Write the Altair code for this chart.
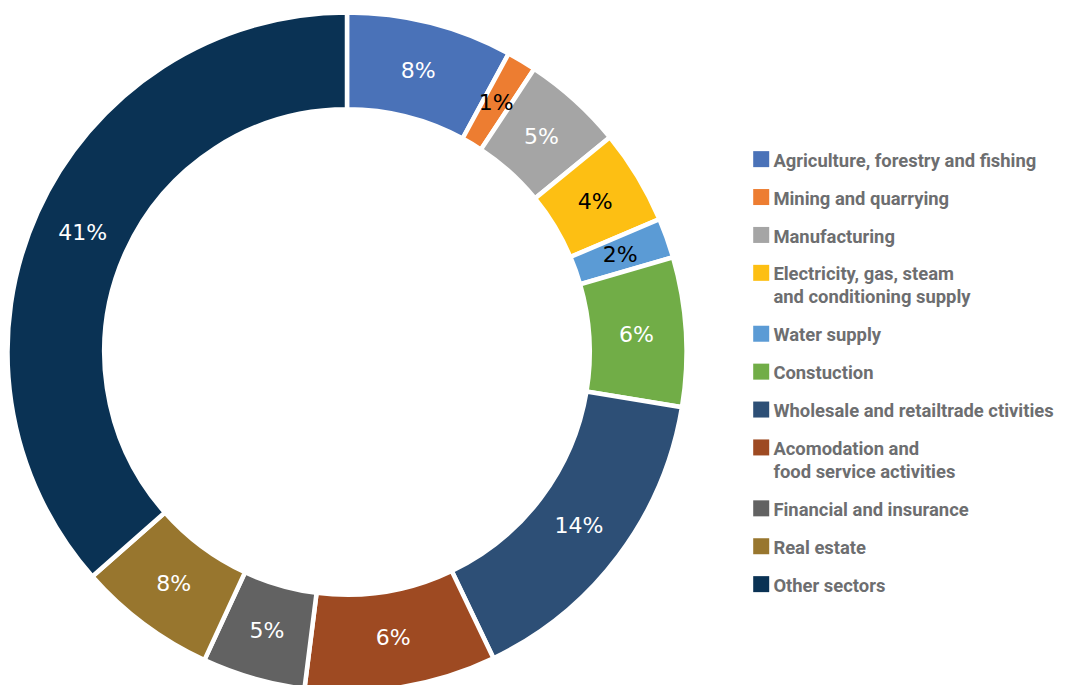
import altair as alt
import pandas as pd

sectors = [
    "Agriculture, forestry and fishing",
    "Mining and quarrying",
    "Manufacturing",
    "Electricity, gas, steam\nand conditioning supply",
    "Water supply",
    "Constuction",
    "Wholesale and retailtrade ctivities",
    "Acomodation and\nfood service activities",
    "Financial and insurance",
    "Real estate",
    "Other sectors",
]
# arc sizes as drawn (percent of the ring)
shares = [7.9, 1.4, 4.8, 4.5, 1.9, 7.1, 15.3, 9.1, 4.9, 6.6, 36.5]
# printed labels
pct_labels = ["8%", "1%", "5%", "4%", "2%", "6%", "14%", "6%", "5%", "8%", "41%"]
colors = ["#4a72b8", "#ed7d31", "#a5a5a5", "#fdbf13", "#5b9bd5", "#71ad47",
          "#2d4f76", "#9e4a22", "#626262", "#98762e", "#0a3254"]
label_colors = ["white", "black", "white", "black", "black", "white",
                "white", "white", "white", "white", "white"]

df = pd.DataFrame({
    "idx": list(range(len(sectors))),
    "sector": sectors,
    "share": shares,
    "label": pct_labels,
    "lcolor": label_colors,
})

cx, cy = 339, 344

base = alt.Chart(df).encode(
    theta=alt.Theta("share:Q", stack=True),
    order=alt.Order("idx:Q"),
    x=alt.value(cx),
    y=alt.value(cy),
)

arcs = base.mark_arc(radius=339.5, radius2=242.75, stroke="white", strokeWidth=4.5).encode(
    color=alt.Color(
        "sector:N",
        scale=alt.Scale(domain=sectors, range=colors),
        legend=alt.Legend(
            title=None,
            orient="none",
            legendX=744,
            legendY=134.5,
            symbolType="M-1,-0.07L1,-0.07L1,1.93L-1,1.93Z",
            symbolSize=256,
            symbolStrokeWidth=0,
            symbolOpacity=1,
            labelFont="Roboto",
            labelFontSize=18.4,
            labelFontWeight="bold",
            labelColor="#6d6e70",
            labelBaseline="top",
            labelOffset=3,
            labelLimit=500,
            rowPadding=9.9,
            padding=0,
            labelExpr="split(datum.label, '\\n')",
        ),
    )
)

texts = base.mark_text(radius=290, font="DejaVu Sans", fontSize=22).encode(
    text="label:N",
    color=alt.Color("lcolor:N", scale=None),
)

chart = (
    alt.layer(arcs, texts)
    .resolve_scale(color="independent")
    .properties(width=1050, height=677, padding=0, autosize=alt.AutoSizeParams(type="none"))
    .configure(style={"guide-label": {"lineHeight": 22.5}})
    .configure_view(stroke=None)
)

chart.save("out.html", embed_options={"renderer": "svg", "actions": False})
